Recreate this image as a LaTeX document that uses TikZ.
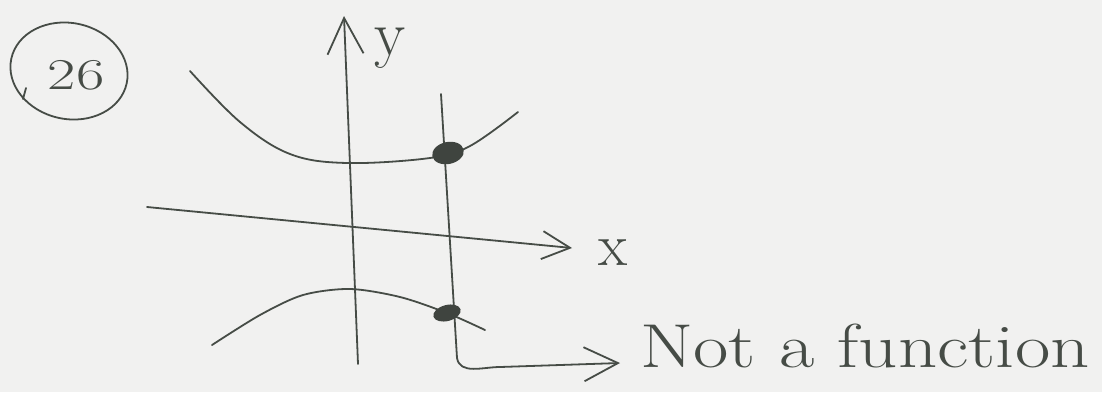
\documentclass[tikz,border=0pt]{standalone}
\usepackage{fontspec}
\usetikzlibrary{arrows.meta}
\definecolor{SkPaper}{RGB}{241,241,240}
\definecolor{SkPencil}{RGB}{70,76,70}
\tikzset{
  skPen/.style={draw=SkPencil, line width=1.8pt, line cap=round, line join=round},
  skArrow/.style={skPen, -{Straight Barb[length=#1, width=#1]}},
  skArrow/.default=30pt,
  skDot/.style={fill=SkPencil!90!black},
  skLabel/.style={text=SkPencil, inner sep=0pt}
}
\begin{document}
\begin{tikzpicture}[x=1pt, y=-1pt]
  \fill[SkPaper] (0,0) rectangle (1102,392);
  \useasboundingbox (0,0) rectangle (1102,392);

  % problem number
  \node[skLabel, font=\fontsize{44}{44}\selectfont] (num) at (76,75) {\scalebox{1.4}[1]{26}};
  \draw[skPen, rotate around={-12:(69,71)}] (69,71) ellipse [x radius=59, y radius=48];
  \draw[skPen] (26,88) -- (23,99);

  % axes
  \coordinate (yBot) at (358,364);
  \coordinate (yTop) at (344,16);
  \draw[skArrow=36pt] (yBot) -- (yTop);
  \node[skLabel, font=\fontsize{64}{64}\selectfont] (ylab) at (390,48) {y};

  \coordinate (xLeft) at (147,207);
  \coordinate (xRight) at (572,248);
  \draw[skArrow=28pt] (xLeft) -- (xRight);
  \node[skLabel, font=\fontsize{60}{60}\selectfont] (xlab) at (613,253) {x};

  % the two branches
  \draw[skPen] plot[smooth, tension=0.6] coordinates {(190,71) (240,122) (290,154) (347,163) (430,158) (470,146) (518,112)};
  \draw[skPen] plot[smooth] coordinates {(212,345) (260,315) (303,295) (350,289) (400,297) (447,313) (485,330)};

  % vertical line test
  \node[skLabel, anchor=base west, font=\fontsize{62}{62}\selectfont] (note) at (640,367) {\scalebox{1.24}[1]{Not a function}};
  \coordinate (vTop) at (441,94);
  \coordinate (vBot) at (457,358);
  \coordinate (noteTip) at (620,363);
  \draw[skArrow=34pt] (vTop) -- (vBot) to[out=-80, in=180] (500,367) -- (noteTip);

  \fill[skDot, rotate around={12:(448,153)}] (448,153) ellipse [x radius=16, y radius=11];
  \fill[skDot, rotate around={15:(447,313)}] (447,313) ellipse [x radius=14, y radius=8];
\end{tikzpicture}
\end{document}
